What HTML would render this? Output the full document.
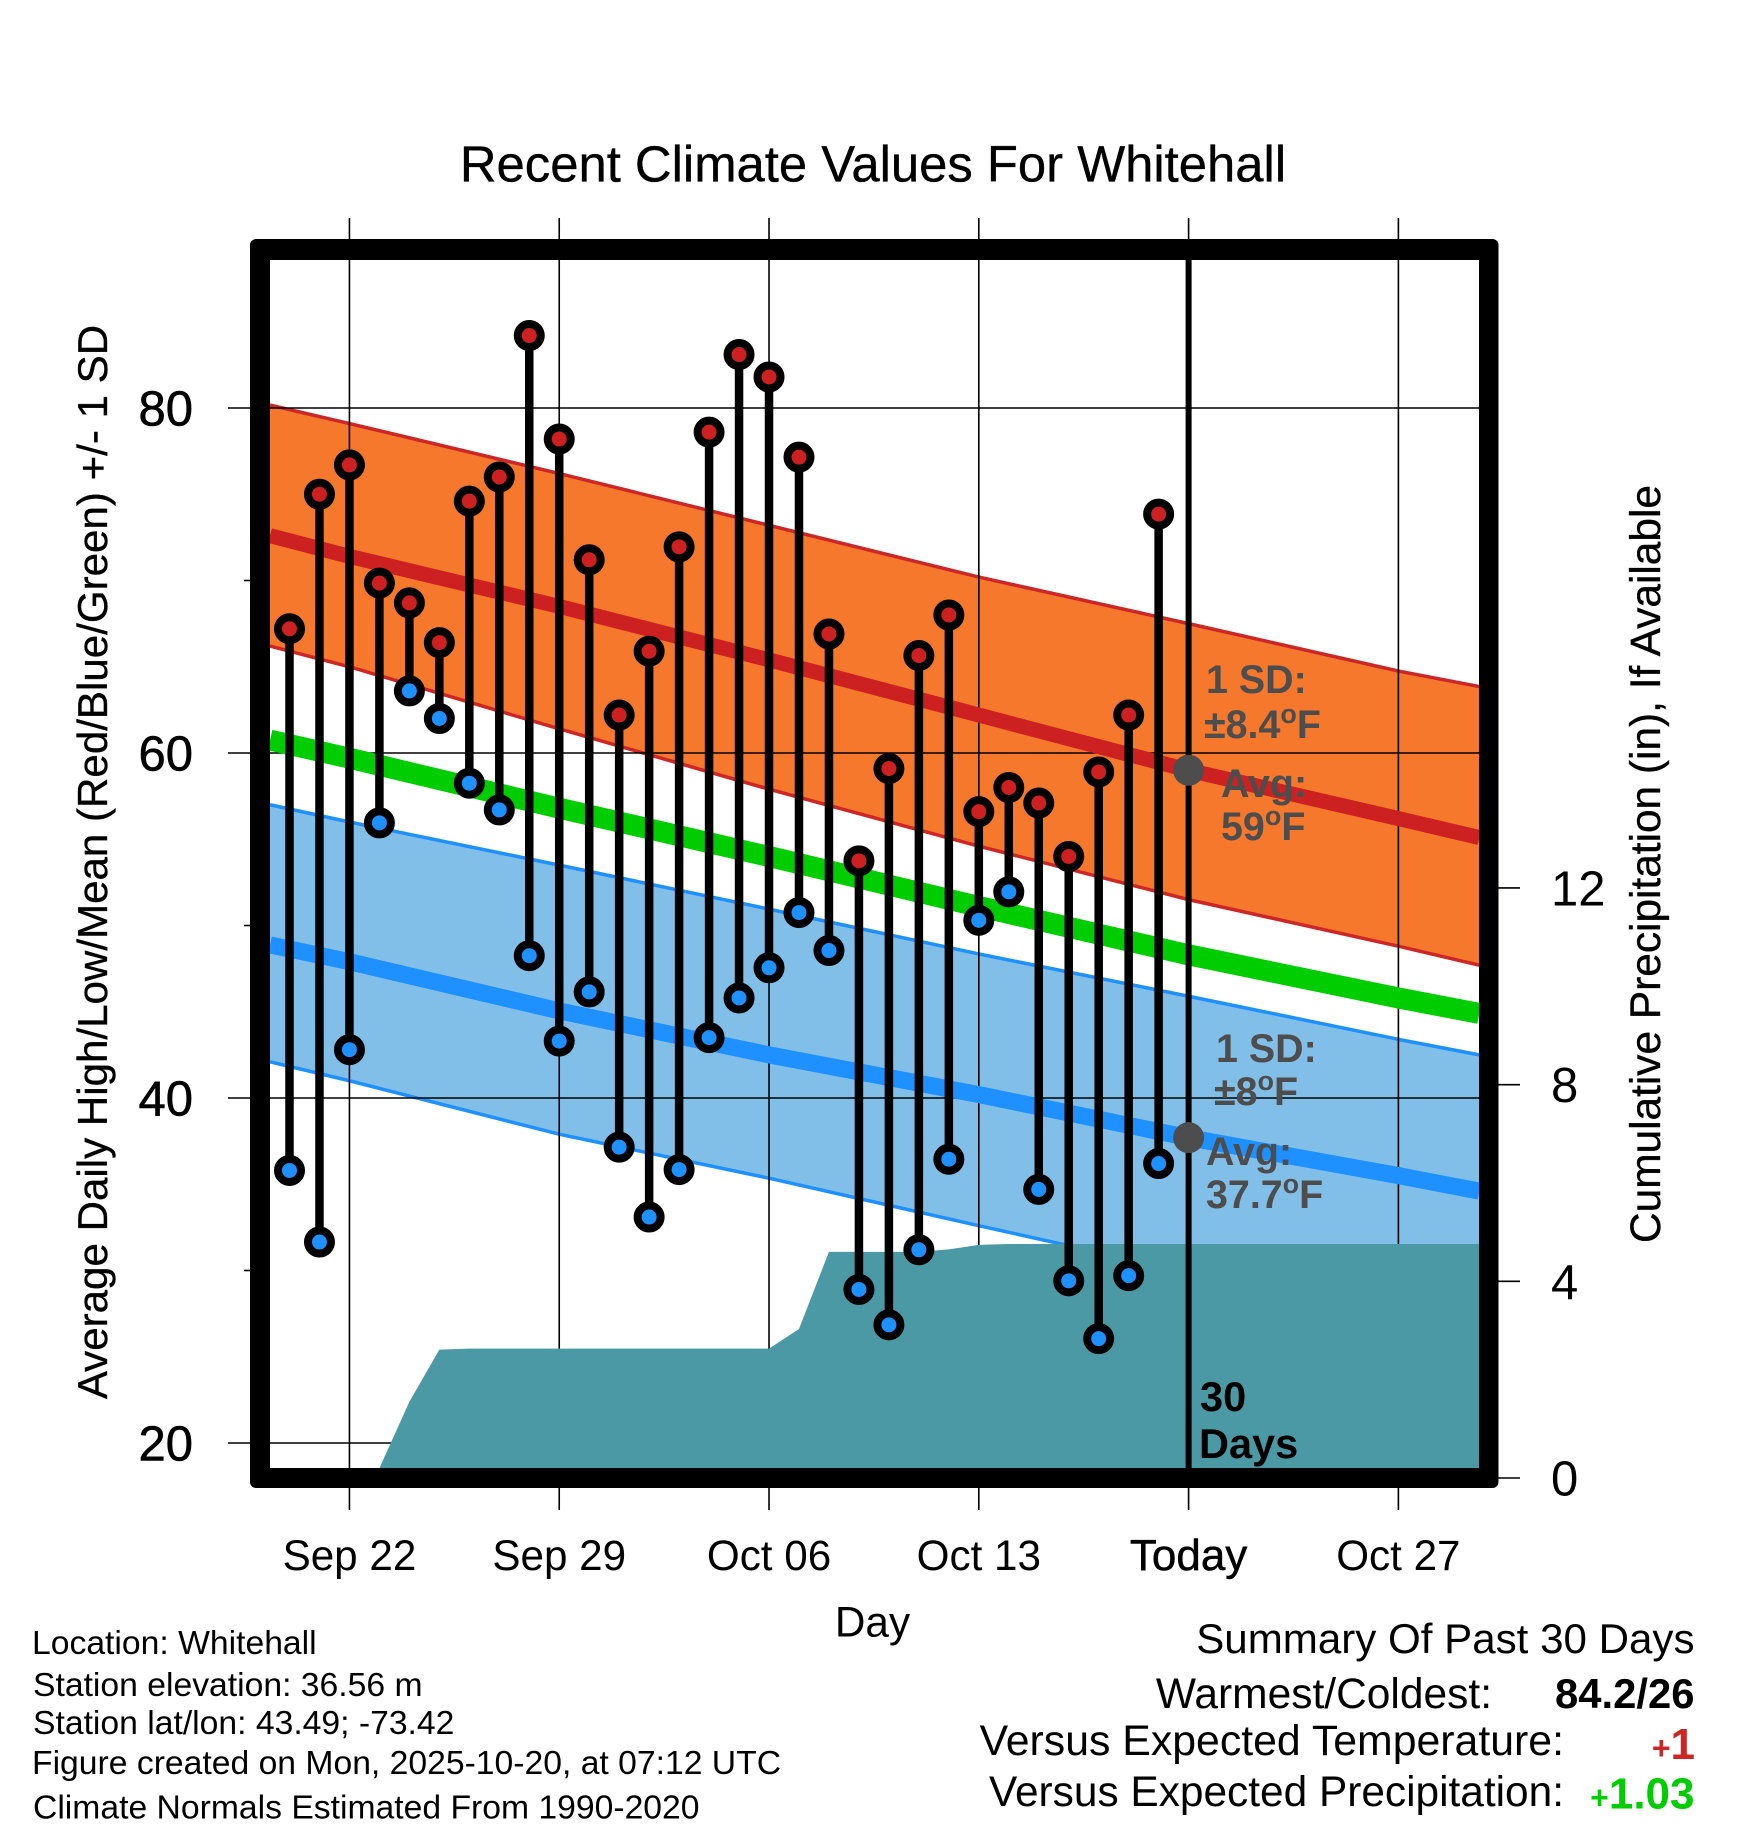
<!DOCTYPE html>
<html lang="en">
<head>
<meta charset="utf-8">
<title>Recent Climate Values For Whitehall</title>
<style>
html,body{margin:0;padding:0;background:#fff;}
svg{display:block;}
text{font-family:"Liberation Sans",Arial,sans-serif;fill:#000;}
.b{font-weight:bold;}
.note{font-size:33.7px;}
.sum{text-anchor:end;}
.ann{font-size:39.4px;font-weight:bold;fill:#4d4d4d;}
.tick{font-size:49px;stroke:#000;stroke-width:0.6px;}
.rtick{font-size:49px;}
.xt{font-size:42.2px;text-anchor:middle;}
.ttl{stroke:#000;stroke-width:0.35px;}
</style>
</head>
<body>
<svg id="chart" xmlns="http://www.w3.org/2000/svg" width="1748" height="1828" viewBox="0 0 1748 1828">
  <rect x="0" y="0" width="1748" height="1828" fill="#fff"/>
  <defs>
    <clipPath id="plotClip"><rect x="260" y="249.5" width="1228.5" height="1228.5"/></clipPath>
  </defs>
  <g id="plot" clip-path="url(#plotClip)"></g>
  <g id="axes"></g>
  <g id="marks" clip-path="url(#plotClip)"></g>

  <text class="ann" x="1206" y="693">1 SD:</text>
  <text class="ann" x="1204" y="738">±8.4<tspan font-size="27" dy="-15">o</tspan><tspan dy="15">F</tspan></text>
  <text class="ann" x="1221" y="797">Avg:</text>
  <text class="ann" x="1221" y="840">59<tspan font-size="27" dy="-15">o</tspan><tspan dy="15">F</tspan></text>
  <text class="ann" x="1216" y="1062">1 SD:</text>
  <text class="ann" x="1214" y="1105">±8<tspan font-size="27" dy="-15">o</tspan><tspan dy="15">F</tspan></text>
  <text class="ann" x="1206" y="1165">Avg:</text>
  <text class="ann" x="1206" y="1208">37.7<tspan font-size="27" dy="-15">o</tspan><tspan dy="15">F</tspan></text>
  <text class="b" font-size="41.5" x="1200" y="1411">30</text>
  <text class="b" font-size="41.5" x="1199" y="1458">Days</text>

  <path fill="#000" fill-rule="evenodd" d="M256 239H1492.5A6 6 0 0 1 1498.5 245V1482A6 6 0 0 1 1492.5 1488H256A6 6 0 0 1 250 1482V245A6 6 0 0 1 256 239ZM270 260V1468H1479V260Z"/>

  <text class="ttl" x="873" y="181.5" font-size="50.8" text-anchor="middle">Recent Climate Values For Whitehall</text>
  <text class="ttl" font-size="42.1" text-anchor="middle" transform="translate(107,862) rotate(-90)">Average Daily High/Low/Mean (Red/Blue/Green) +/- 1 SD</text>
  <text class="ttl" font-size="42.4" text-anchor="middle" transform="translate(1660,864) rotate(-90)">Cumulative Precipitation (in), If Available</text>
  <text font-size="42.3" x="872.5" y="1636.5" text-anchor="middle">Day</text>

  <text class="note" x="32" y="1654">Location: Whitehall</text>
  <text class="note" x="33" y="1696">Station elevation: 36.56 m</text>
  <text class="note" x="33" y="1734">Station lat/lon: 43.49; -73.42</text>
  <text class="note" x="32" y="1774">Figure created on Mon, 2025-10-20, at 07:12 UTC</text>
  <text class="note" x="33" y="1818.5">Climate Normals Estimated From 1990-2020</text>

  <text class="sum" font-size="42.1" x="1694.5" y="1653">Summary Of Past 30 Days</text>
  <text class="sum" font-size="42.5" x="1492" y="1708">Warmest/Coldest:</text>
  <text class="sum b" font-size="41.8" x="1694.5" y="1708">84.2/26</text>
  <text class="sum" font-size="42.8" x="1564" y="1755">Versus Expected Temperature:</text>
  <text class="sum b" font-size="44" x="1695" y="1759" style="fill:#cd2626"><tspan font-size="32">+</tspan>1</text>
  <text class="sum" font-size="42.4" x="1564" y="1806">Versus Expected Precipitation:</text>
  <text class="sum b" font-size="44" x="1694.5" y="1808.5" style="fill:#00cd00"><tspan font-size="32">+</tspan>1.03</text>

<script>
// Daily observations, Sep 20 .. Oct 19 (index 0 = Sep 20)
const dailyHighs = [67.2,75.0,76.7,69.85,68.7,66.4,74.6,76.0,84.2,78.2,71.2,62.2,65.9,71.95,78.6,83.1,81.8,77.15,66.9,53.75,59.1,65.65,68.0,56.6,58.0,57.1,54.0,58.9,62.2,73.85];
const dailyLows = [35.8,31.65,42.8,55.95,63.6,62.0,58.25,56.7,48.25,43.3,46.15,37.15,33.1,35.85,43.5,45.8,47.55,50.75,48.55,28.9,26.85,31.2,36.45,50.3,51.95,34.7,29.4,26.05,29.7,36.2];
// Cumulative precipitation by day (inches)
const precipDays = [2,3,4,5,6,16,17,18,21,22,23,24,30,40];
const precipTotals = [0,0.2,1.55,2.61,2.63,2.63,3.03,4.6,4.6,4.65,4.74,4.76,4.76,4.76];
// Climate normals read at these days
const normalDays = [-0.65,2,9,16,23,30,37,39.7];
const normalHighUpper = [80.17,79.1,76.2,73.2,70.2,67.5,64.75,63.85];
const normalHigh = [72.6,71.4,68.5,65.4,62.2,59.0,56.2,55.1];
const normalHighLower = [66.2,65.0,61.4,57.9,54.6,51.5,48.8,47.7];
const normalMean = [60.75,59.7,56.8,54.0,51.1,48.3,45.8,44.9];
const normalLowUpper = [57.0,56.0,53.5,50.95,48.35,45.9,43.4,42.5];
const normalLow = [48.87,47.9,45.05,42.5,40.2,37.7,35.5,34.6];
const normalLowLower = [42.1,41.0,37.9,35.35,32.6,29.9,27.5,26.6];
// Axes
const xTickDays = [2,9,16,23,30,37];
const xTickLabels = ['Sep 22','Sep 29','Oct 06','Oct 13','Today','Oct 27'];
const yMajorTicks = [20,40,60,80];
const yMinorTicks = [30,50,70];
const precipTicks = [0,4,8,12];
const todayIndex = 30;
const todayHighAvg = 59;
const todayLowAvg = 37.7;

const NS = 'http://www.w3.org/2000/svg';
function xScale(day){ return 289.5 + day * 29.97; }
function yScale(temp){ return 408 + (80 - temp) * 17.25; }
function pScale(inches){ return 1478 - inches * 49.17; }
function make(parent, tag, attrs){
  const el = document.createElementNS(NS, tag);
  for (const k in attrs) el.setAttribute(k, attrs[k]);
  parent.appendChild(el);
  return el;
}
function linePts(values){ return normalDays.map((d,i)=>xScale(d)+','+yScale(values[i])); }

const plot = document.getElementById('plot');
const axes = document.getElementById('axes');
const marks = document.getElementById('marks');

// Bands
const orange = make(plot,'polygon',{points:linePts(normalHighUpper).concat(linePts(normalHighLower).reverse()).join(' '),fill:'#f6782c'});


const skyBand = make(plot,'polygon',{points:linePts(normalLowUpper).concat(linePts(normalLowLower).reverse()).join(' '),fill:'#82bfe8'});


const e1 = make(plot,'polyline',{points:linePts(normalHighUpper).join(' '),fill:'none',stroke:'#cd2626','stroke-width':3.5});


const e2 = make(plot,'polyline',{points:linePts(normalHighLower).join(' '),fill:'none',stroke:'#cd2626','stroke-width':3.5});


const e3 = make(plot,'polyline',{points:linePts(normalLowUpper).join(' '),fill:'none',stroke:'#1e90ff','stroke-width':3.5});


const e4 = make(plot,'polyline',{points:linePts(normalLowLower).join(' '),fill:'none',stroke:'#1e90ff','stroke-width':3.5});



// Grid inside the plot
yMajorTicks.forEach(function(v){
  const g = make(plot,'line',{x1:228,x2:1480,y1:yScale(v),y2:yScale(v),stroke:'#000','stroke-width':1.6});
  
  
});
xTickDays.forEach(function(d){
  const g = make(plot,'line',{x1:xScale(d),x2:xScale(d),y1:218,y2:1480,stroke:'#000','stroke-width':1.6});
  
  
});

// Mean lines
const hiLine = make(plot,'polyline',{points:linePts(normalHigh).join(' '),fill:'none',stroke:'#cd2020','stroke-width':15});


const meanLine = make(plot,'polyline',{points:linePts(normalMean).join(' '),fill:'none',stroke:'#00cd00','stroke-width':21});


const loLine = make(plot,'polyline',{points:linePts(normalLow).join(' '),fill:'none',stroke:'#1e90ff','stroke-width':17});



// Precipitation area
const precipPts = precipDays.map((d,i)=>xScale(d)+','+pScale(precipTotals[i]));
precipPts.push(xScale(precipDays[precipDays.length-1])+','+pScale(0));
precipPts.push(xScale(precipDays[0])+','+pScale(0));
const precip = make(plot,'polygon',{points:precipPts.join(' '),fill:'#4a99a4'});



// Ticks outside the plot
yMajorTicks.forEach(function(v){
  const t = make(axes,'line',{x1:228,x2:252,y1:yScale(v),y2:yScale(v),stroke:'#000','stroke-width':1.6});
  
  
  const l = make(axes,'text',{x:193,y:yScale(v)+17.5,'text-anchor':'end','class':'tick'});
  l.textContent = String(v);
  
  
});
yMinorTicks.forEach(function(v){
  const t = make(axes,'line',{x1:244,x2:252,y1:yScale(v),y2:yScale(v),stroke:'#000','stroke-width':1.6});
  
  
});
xTickDays.forEach(function(d,i){
  const t1 = make(axes,'line',{x1:xScale(d),x2:xScale(d),y1:218,y2:240,stroke:'#000','stroke-width':1.6});
  
  
  const t2 = make(axes,'line',{x1:xScale(d),x2:xScale(d),y1:1486,y2:1510,stroke:'#000','stroke-width':1.6});
  
  
  const l = make(axes,'text',{x:xScale(d),y:1570,'class':'xt'});
  l.textContent = xTickLabels[i];
  
  
  if (xTickLabels[i] === 'Today') { l.setAttribute('font-size', '44'); l.setAttribute('style', 'font-size:44px'); l.setAttribute('stroke', '#000'); l.setAttribute('stroke-width', '0.5'); }
});
precipTicks.forEach(function(v){
  const t = make(axes,'line',{x1:1496,x2:1520,y1:pScale(v),y2:pScale(v),stroke:'#000','stroke-width':1.6});
  
  
  const l = make(axes,'text',{x:1551,y:pScale(v)+17.5,'class':'rtick'});
  l.textContent = String(v);
  
  
});

// Today line
const today = make(marks,'line',{x1:xScale(todayIndex),x2:xScale(todayIndex),y1:250,y2:1478,stroke:'#000','stroke-width':6});



// Stems and markers
dailyHighs.forEach(function(h,i){
  const x = xScale(i), lo = dailyLows[i];
  const s = make(marks,'line',{x1:x,x2:x,y1:yScale(h),y2:yScale(lo),stroke:'#000','stroke-width':8.5});
  
  
});
dailyHighs.forEach(function(h,i){
  const x = xScale(i), lo = dailyLows[i];
  const a = make(marks,'circle',{cx:x,cy:yScale(h),r:11.5,fill:'#cd2020',stroke:'#000','stroke-width':8});
  
  
  const b = make(marks,'circle',{cx:x,cy:yScale(lo),r:11.5,fill:'#1e90ff',stroke:'#000','stroke-width':8});
  
  
});

// Today's average dots
const d1 = make(marks,'circle',{cx:xScale(todayIndex),cy:yScale(todayHighAvg),r:15.5,fill:'#4d4d4d'});


const d2 = make(marks,'circle',{cx:xScale(todayIndex),cy:yScale(todayLowAvg),r:15.5,fill:'#4d4d4d'});


</script>
</svg>
</body>
</html>
